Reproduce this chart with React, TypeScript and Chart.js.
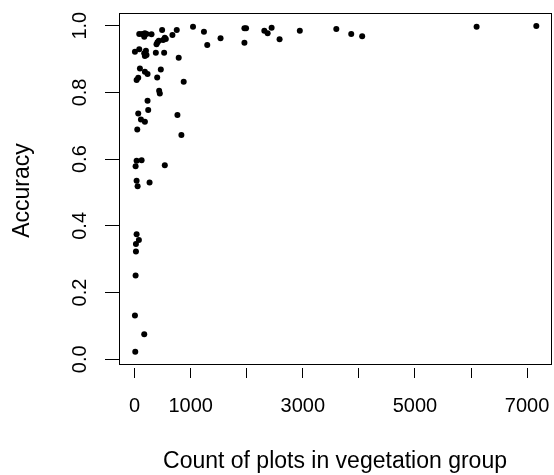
import { useEffect, useRef } from 'react';
import { Chart, registerables } from 'chart.js';

Chart.register(...registerables);

// ---- data ----
const plotCounts = [
  82, 135, 183, 171, 212, 301,
  490, 674, 751, 1041, 1236, 1295, 1532,
  1958, 1987, 1958, 2313, 2372, 2443, 2585, 2946,
  3597, 3863, 4058, 6099, 7164,
  390, 408, 431, 508, 538, 556,
  5, 82, 171, 201, 212, 183, 378, 526, 786,
  94, 183, 230, 467,
  35, 64, 402, 875,
  437, 449, 230, 242, 64, 112, 183, 763,
  47, 834,
  35, 124, 17, 538,
  35, 53, 266,
  35, 76, 23, 23, 17, 5, 171, 11,
];

const accuracy = [
  0.975, 0.975, 0.977, 0.967, 0.975, 0.974,
  0.987, 0.972, 0.987, 0.997, 0.982, 0.942, 0.962,
  0.992, 0.992, 0.949, 0.985, 0.977, 0.994, 0.959, 0.985,
  0.990, 0.975, 0.968, 0.997, 0.999,
  0.944, 0.950, 0.955, 0.957, 0.964, 0.960,
  0.922, 0.929, 0.917, 0.925, 0.912, 0.909, 0.919, 0.919, 0.904,
  0.872, 0.862, 0.855, 0.869,
  0.837, 0.844, 0.845, 0.832,
  0.805, 0.797, 0.775, 0.747, 0.737, 0.719, 0.712, 0.732,
  0.689, 0.672,
  0.595, 0.597, 0.579, 0.582,
  0.535, 0.519, 0.530,
  0.375, 0.358, 0.346, 0.323, 0.251, 0.131, 0.075, 0.023,
];

const xTickValues = [0, 1000, 2000, 3000, 4000, 5000, 6000, 7000];
const xLabeledTicks = [0, 1000, 3000, 5000, 7000];
const yTickValues = [0, 0.2, 0.4, 0.6, 0.8, 1.0];
const xTitle = 'Count of plots in vegetation group';
const yTitle = 'Accuracy';

const FONT = "'Liberation Sans', Arial, Helvetica, sans-serif";

const boxPlugin = {
  id: 'rBox',
  afterDraw(chart: any) {
    const { ctx, chartArea } = chart;
    const l = Math.round(chartArea.left) + 0.5;
    const t = Math.round(chartArea.top) + 0.5;
    const r = Math.round(chartArea.right) + 0.5;
    const b = Math.round(chartArea.bottom) - 4 + 0.5;
    ctx.save();
    ctx.strokeStyle = '#000';
    ctx.lineWidth = 1;
    ctx.strokeRect(l, t, r - l, b - t);
    ctx.restore();
  },
};

export default function App() {
  const ref = useRef<HTMLCanvasElement | null>(null);

  useEffect(() => {
    if (!ref.current) return;
    const points = plotCounts.map((x, i) => ({ x, y: accuracy[i] }));
    const chart = new Chart(ref.current, {
      type: 'scatter',
      data: {
        datasets: [
          {
            data: points,
            backgroundColor: '#000',
            borderColor: '#000',
            borderWidth: 0,
            pointRadius: 3,
            pointHoverRadius: 3,
          },
        ],
      },
      options: {
        animation: false,
        responsive: false,
        devicePixelRatio: 1,
        layout: { padding: { top: 13, right: 1, left: 0, bottom: 0 } },
        plugins: {
          legend: { display: false },
          tooltip: { enabled: false },
        },
        scales: {
          x: {
            type: 'linear',
            position: 'bottom',
            min: -279,
            max: 7426,
            afterBuildTicks: (s: any) => {
              s.ticks = xTickValues.map((v) => ({ value: v }));
            },
            afterFit: (s: any) => {
              s.height = 107;
              s.paddingLeft = 0;
              s.paddingRight = 0;
            },
            grid: {
              drawOnChartArea: false,
              drawTicks: true,
              tickLength: 10,
              color: '#000',
              lineWidth: 1,
            },
            border: { display: false },
            ticks: {
              autoSkip: false,
              minRotation: 0,
              maxRotation: 0,
              padding: 16,
              color: '#000',
              font: { family: FONT, size: 20 },
              callback: (v: any) => (xLabeledTicks.includes(Number(v)) ? String(v) : ''),
            },
            title: {
              display: true,
              text: xTitle,
              color: '#000',
              font: { family: FONT, size: 23 },
              padding: { top: 0, bottom: 0 },
            },
          },
          y: {
            type: 'linear',
            position: 'left',
            min: -0.026,
            max: 1.038,
            afterBuildTicks: (s: any) => {
              s.ticks = yTickValues.map((v) => ({ value: v }));
            },
            afterFit: (s: any) => {
              s.width = 119;
              s.paddingTop = 0;
              s.paddingBottom = 0;
            },
            grid: {
              drawOnChartArea: false,
              drawTicks: true,
              tickLength: 14,
              color: '#000',
              lineWidth: 1,
            },
            border: { display: false },
            ticks: {
              autoSkip: false,
              minRotation: 90,
              maxRotation: 90,
              crossAlign: 'center',
              padding: 11,
              color: '#000',
              font: { family: FONT, size: 20 },
              callback: (v: any) => Number(v).toFixed(1),
            },
            title: {
              display: true,
              text: yTitle,
              color: '#000',
              font: { family: FONT, size: 23 },
              padding: { top: 9, bottom: 0 },
            },
          },
        },
      } as any,
      plugins: [boxPlugin],
    });
    return () => chart.destroy();
  }, []);

  return (
    <div style={{ position: 'absolute', left: 0, top: 0, width: 554, height: 475, background: '#fff' }}>
      <canvas ref={ref} width={554} height={475} style={{ display: 'block' }} />
    </div>
  );
}
